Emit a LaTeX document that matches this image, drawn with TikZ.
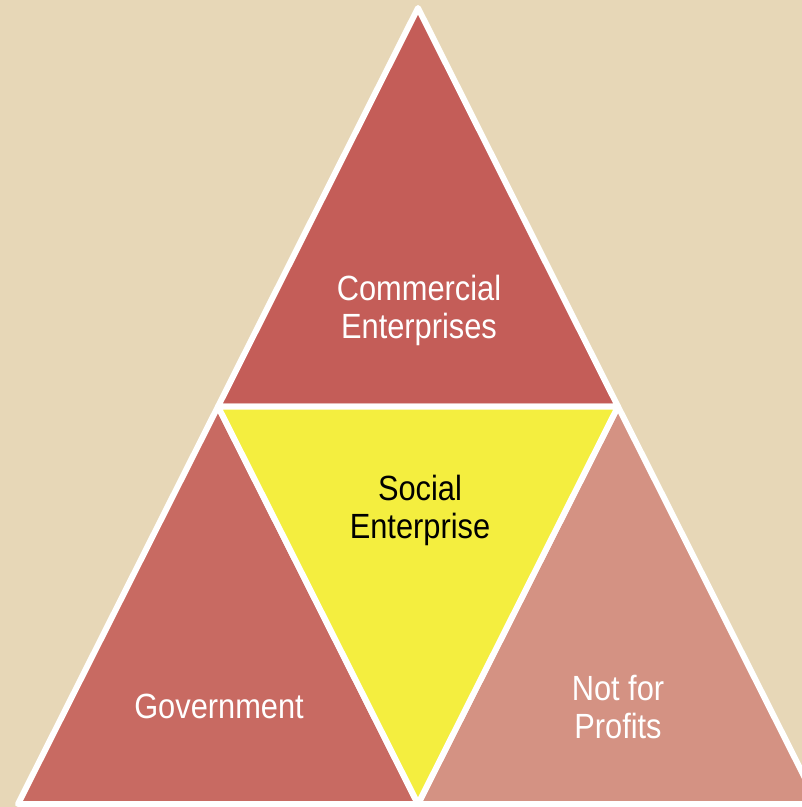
\documentclass[tikz,border=0pt]{standalone}
\usepackage{fontspec}
\setmainfont{Liberation Sans}[FakeStretch=0.88]

\definecolor{paper}{HTML}{E7D7B7}
\definecolor{commred}{HTML}{C45D58}
\definecolor{govred}{HTML}{C86A62}
\definecolor{npred}{HTML}{D49283}
\definecolor{socyellow}{HTML}{F4EE3F}

\begin{document}
\begin{tikzpicture}[x=1pt, y=-1pt]
        \tikzstyle{piece}=[draw=white, line width=6pt, line join=round];
        \tikzstyle{tritext}=[font=\fontsize{35}{38}\selectfont, align=center, text=white, inner sep=0pt];

        \useasboundingbox (0,0) rectangle (802,807);
        \fill[paper] (0,0) rectangle (802,807);
        \clip (0,0) rectangle (802,807);

        % corners of the big triangle and the midpoints of its sides
        \coordinate (apex) at (418,8);
        \coordinate (bl) at (18,804);
        \coordinate (br) at (818,804);
        \coordinate (ml) at (218,406.5);
        \coordinate (mr) at (618,406.5);
        \coordinate (mb) at (418,804);

        \filldraw[piece, fill=commred] (apex) -- (ml) -- (mr) -- cycle;
        \filldraw[piece, fill=govred] (ml) -- (bl) -- (mb) -- cycle;
        \filldraw[piece, fill=npred] (mr) -- (mb) -- (br) -- cycle;
        \filldraw[piece, fill=socyellow] (ml) -- (mr) -- (mb) -- cycle;

        \node[tritext] (comm) at (419,310) {Commercial\\Enterprises};
        \node[tritext, text=black] (soc) at (420,510) {Social\\Enterprise};
        \node[tritext] (gov) at (219,706) {Government};
        \node[tritext] (np) at (618,707) {Not for\\Profits};
\end{tikzpicture}
\end{document}
